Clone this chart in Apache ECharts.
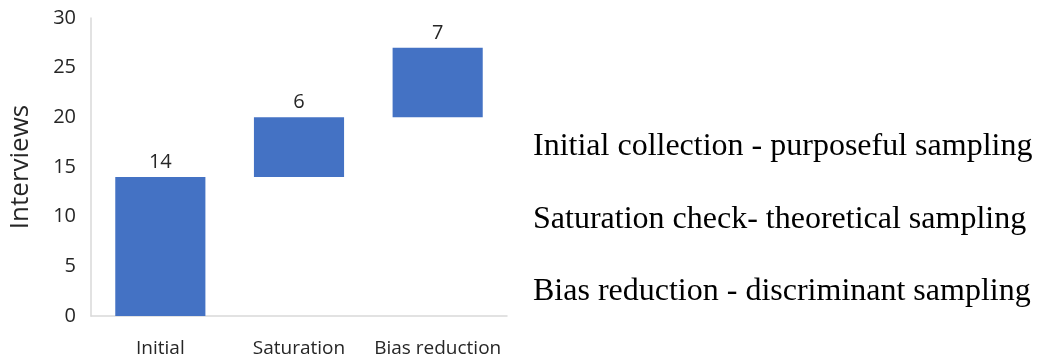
<!DOCTYPE html>
<html>
<head>
<meta charset="utf-8">
<script src="https://cdn.jsdelivr.net/npm/echarts@6/dist/echarts.min.js"></script>
<style>html,body{margin:0;padding:0;background:#fff}#c{width:1039px;height:362px}</style>
</head>
<body>
<div id="c"></div>
<script>
const categories = ['Initial', 'Saturation', 'Bias reduction'];
const increments = [14, 6, 7];
const yTicks = [0, 5, 10, 15, 20, 25, 30];
const notes = [
  'Initial collection - purposeful sampling',
  'Saturation check- theoretical sampling',
  'Bias reduction - discriminant sampling'
];

const bases = [];
let run = 0;
for (const v of increments) { bases.push(run); run += v; }

const chart = echarts.init(document.getElementById('c'));
const sans = '"Open Sans", "Noto Sans", sans-serif';
chart.setOption({
  animation: false,
  grid: { left: 91, right: 532, top: 18, bottom: 46 },
  xAxis: {
    type: 'category',
    data: categories,
    axisLine: { lineStyle: { color: '#d9d9d9', width: 1.5 } },
    axisTick: { show: false },
    axisLabel: { color: '#262626', fontSize: 19, fontFamily: sans, margin: 23, interval: 0 }
  },
  yAxis: {
    type: 'value',
    min: yTicks[0], max: yTicks[yTicks.length - 1], interval: 5,
    name: 'Interviews', nameLocation: 'middle', nameGap: 57, nameRotate: 90,
    nameTextStyle: { color: '#262626', fontSize: 26, fontFamily: sans },
    axisLine: { show: true, lineStyle: { color: '#d9d9d9', width: 1.5 } },
    axisTick: { show: false },
    splitLine: { show: false },
    axisLabel: { color: '#262626', fontSize: 20, fontFamily: sans, margin: 15 }
  },
  series: [
    {
      type: 'bar', stack: 'w', data: bases, silent: true,
      itemStyle: { color: 'transparent' }, barCategoryGap: '35%'
    },
    {
      type: 'bar', stack: 'w', data: increments, barCategoryGap: '35%',
      itemStyle: { color: '#4472c4' },
      label: { show: true, position: 'top', distance: 5, color: '#262626', fontSize: 20, fontFamily: sans }
    }
  ],
  graphic: notes.map((t, i) => ({
    type: 'text', left: 533, top: 131 + i * 72.5,
    style: { text: t, fill: '#000', font: '32px "Liberation Serif", "Times New Roman", serif' }
  }))
});
</script>
</body>
</html>
